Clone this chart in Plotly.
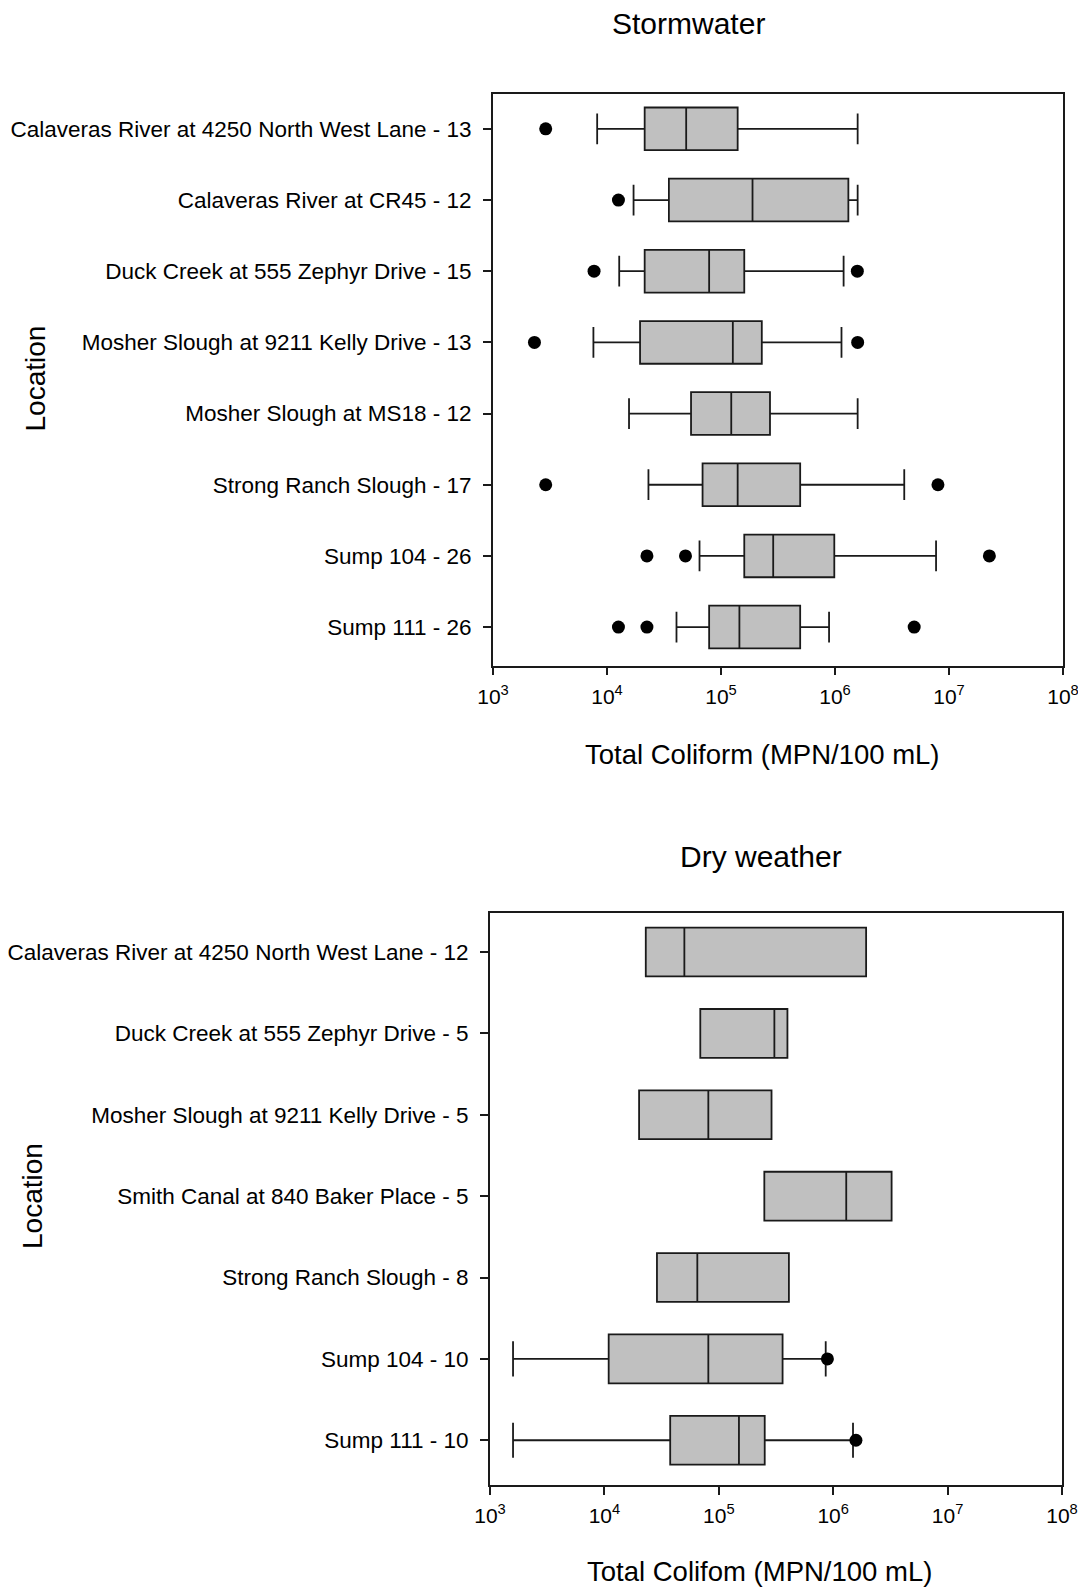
import plotly.graph_objects as go

# ---------------- Data ----------------
sw_locations = [
    "Calaveras River at 4250 North West Lane - 13",
    "Calaveras River at CR45 - 12",
    "Duck Creek at 555 Zephyr Drive - 15",
    "Mosher Slough at 9211 Kelly Drive - 13",
    "Mosher Slough at MS18 - 12",
    "Strong Ranch Slough - 17",
    "Sump 104 - 26",
    "Sump 111 - 26",
]
sw_low = [8.2e3, 1.71e4, 1.28e4, 7.6e3, 1.56e4, 2.31e4, 6.48e4, 4.07e4]
sw_q1 = [2.14e4, 3.49e4, 2.14e4, 1.95e4, 5.46e4, 6.89e4, 1.6e5, 7.87e4]
sw_med = [4.95e4, 1.89e5, 7.87e4, 1.27e5, 1.23e5, 1.4e5, 2.87e5, 1.45e5]
sw_q3 = [1.4e5, 1.31e6, 1.6e5, 2.28e5, 2.69e5, 4.95e5, 9.86e5, 4.95e5]
sw_high = [1.58e6, 1.58e6, 1.19e6, 1.14e6, 1.58e6, 4.05e6, 7.7e6, 8.87e5]
sw_out_loc = [0, 1, 2, 2, 3, 3, 5, 5, 6, 6, 6, 7, 7, 7]
sw_out_val = [2.9e3, 1.26e4, 7.7e3, 1.57e6, 2.31e3, 1.58e6, 2.9e3, 8.0e6,
              2.24e4, 4.88e4, 2.26e7, 1.26e4, 2.24e4, 4.95e6]

dw_locations = [
    "Calaveras River at 4250 North West Lane - 12",
    "Duck Creek at 555 Zephyr Drive - 5",
    "Mosher Slough at 9211 Kelly Drive - 5",
    "Smith Canal at 840 Baker Place - 5",
    "Strong Ranch Slough - 8",
    "Sump 104 - 10",
    "Sump 111 - 10",
]
dw_low = [None, None, None, None, None, 1.59e3, 1.59e3]
dw_q1 = [2.3e4, 6.89e4, 2.01e4, 2.5e5, 2.88e4, 1.09e4, 3.76e4]
dw_med = [5.0e4, 3.06e5, 8.1e4, 1.3e6, 6.49e4, 8.1e4, 1.5e5]
dw_q3 = [1.94e6, 3.98e5, 2.89e5, 3.24e6, 4.1e5, 3.61e5, 2.52e5]
dw_high = [None, None, None, None, None, 8.6e5, 1.49e6]
dw_out_loc = [5, 6]
dw_out_val = [8.9e5, 1.58e6]

tick_vals = [1e3, 1e4, 1e5, 1e6, 1e7, 1e8]
tick_text = ["10<sup>3</sup>", "10<sup>4</sup>", "10<sup>5</sup>",
             "10<sup>6</sup>", "10<sup>7</sup>", "10<sup>8</sup>"]

# ---------------- Figure ----------------
OFF = 8  # default page body margin
W, H = 1086 - OFF, 1589 - OFF
FONT = "Liberation Sans, Arial, sans-serif"
LINE = "#1a1a1a"

fig = go.Figure()


def add_panel(locs, low, q1, med, q3, high, out_loc, out_val, xa, ya):
    lo = [a if a is not None else b for a, b in zip(low, q1)]
    hi = [a if a is not None else b for a, b in zip(high, q3)]
    fig.add_trace(go.Box(
        y=locs, q1=q1, median=med, q3=q3, lowerfence=lo, upperfence=hi,
        orientation="h", boxpoints=False, width=0.6, whiskerwidth=0.72,
        fillcolor="#c0c0c0", line=dict(color=LINE, width=1.8),
        xaxis=xa, yaxis=ya, showlegend=False, hoverinfo="skip",
    ))
    fig.add_trace(go.Scatter(
        x=out_val, y=[locs[i] for i in out_loc], mode="markers",
        marker=dict(color="black", size=13, symbol="circle"),
        xaxis=xa, yaxis=ya, showlegend=False, hoverinfo="skip",
    ))


add_panel(sw_locations, sw_low, sw_q1, sw_med, sw_q3, sw_high,
          sw_out_loc, sw_out_val, "x", "y")
add_panel(dw_locations, dw_low, dw_q1, dw_med, dw_q3, dw_high,
          dw_out_loc, dw_out_val, "x2", "y2")


def px_x(p):
    return (p - OFF) / W


def px_y(p):
    return 1 - (p - OFF) / H


xcommon = dict(type="log", range=[3, 8], tickvals=tick_vals, ticktext=tick_text,
               showline=True, linecolor=LINE, linewidth=1.8, mirror=True,
               ticks="outside", ticklen=8, tickwidth=1.5, tickcolor=LINE,
               showgrid=False, zeroline=False, automargin=False,
               tickfont=dict(family=FONT, size=21, color="black"),
               ticklabelstandoff=3)
ycommon = dict(type="category",
               showline=True, linecolor=LINE, linewidth=1.8, mirror=True,
               ticks="outside", ticklen=8, tickwidth=1.5, tickcolor=LINE,
               showgrid=False, zeroline=False, automargin=False,
               tickfont=dict(family=FONT, size=22.5, color="black"),
               ticklabelstandoff=7)

n_sw = len(sw_locations)
n_dw = len(dw_locations)
fig.update_layout(
    width=W, height=H,
    margin=dict(l=0, r=0, t=0, b=0, autoexpand=False),
    paper_bgcolor="white", plot_bgcolor="white",
    font=dict(family=FONT, color="black"),
    xaxis=dict(domain=[px_x(493), px_x(1063)], anchor="y", **xcommon),
    yaxis=dict(domain=[px_y(665.5), px_y(94)], anchor="x",
               categoryarray=sw_locations, range=[n_sw - 0.46, -0.49], **ycommon),
    xaxis2=dict(domain=[px_x(490), px_x(1062)], anchor="y2", **xcommon),
    yaxis2=dict(domain=[px_y(1485), px_y(913)], anchor="x2",
                categoryarray=dw_locations, range=[n_dw - 0.45, -0.48], **ycommon),
)

ann = [
    ("Stormwater", 688, 23, 30, 0),
    ("Dry weather", 761, 856, 30, 0),
    ("Total Coliform (MPN/100 mL)", 762, 754, 27.5, 0),
    ("Total Colifom (MPN/100 mL)", 759, 1571, 27.5, 0),
    ("Location", 35.5, 379, 28, -90),
    ("Location", 32, 1196, 28, -90),
]
for text, x, y, size, ang in ann:
    fig.add_annotation(text=text, x=px_x(x), y=px_y(y), xref="paper", yref="paper",
                       showarrow=False, textangle=ang, xanchor="center", yanchor="middle",
                       font=dict(family=FONT, size=size, color="black"))

fig.write_html("out.html")
